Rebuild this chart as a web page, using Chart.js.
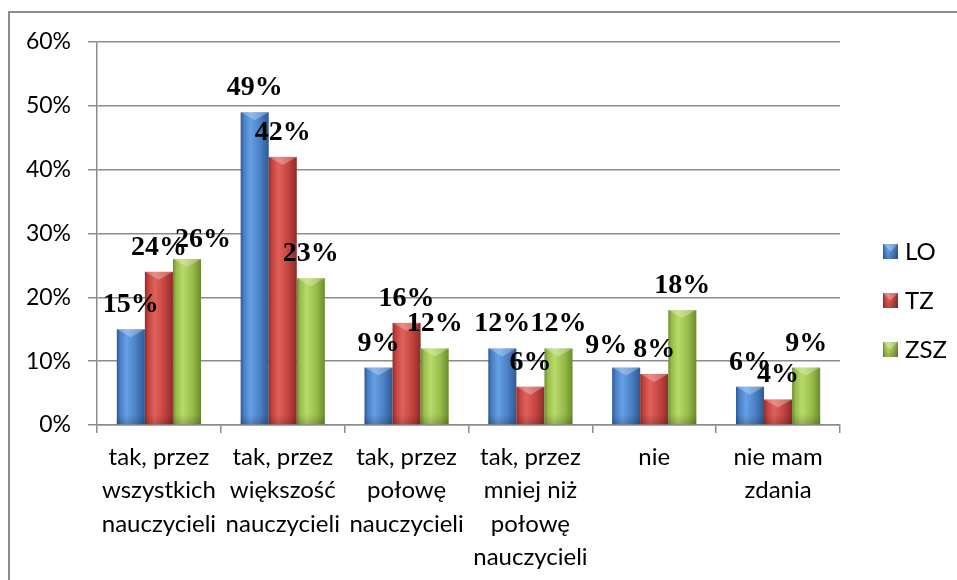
<!DOCTYPE html>
<html lang="pl">
<head>
  <meta charset="UTF-8" />
  <title>Wykres</title>
  <script src="https://cdn.jsdelivr.net/npm/chart.js"></script>
  <style>
    html, body { margin: 0; padding: 0; background: #fff; }
    .frame {
      position: absolute;
      left: 8px; top: 11px;
      width: 1000px; height: 600px;
      border: 2px solid #8c8c8c;
      border-right: none; border-bottom: none;
      box-sizing: border-box;
    }
    canvas { position: absolute; left: 0; top: 0; }
  </style>
</head>
<body>
  <div class="frame"></div>
  <canvas id="chart" width="957" height="580"></canvas>

  <script>
    // values (percent)
    const categories = [
      ['tak, przez', 'wszystkich', 'nauczycieli'],
      ['tak, przez', 'większość', 'nauczycieli'],
      ['tak, przez', 'połowę', 'nauczycieli'],
      ['tak, przez', 'mniej niż', 'połowę', 'nauczycieli'],
      ['nie'],
      ['nie mam', 'zdania']
    ];
    const seriesNames = ['LO', 'TZ', 'ZSZ'];
    const loValues = [15, 49, 9, 12, 9, 6];
    const tzValues = [24, 42, 16, 6, 8, 4];
    const zszValues = [26, 23, 12, 12, 18, 9];
    const yTicks = [0, 10, 20, 30, 40, 50, 60];

    // base / dark edge / light highlight for each series
    const palette = [
      { base: '#4a7fc4', dark: '#2d5a94', light: '#66a0e6' },
      { base: '#c4433f', dark: '#8f2b29', light: '#e0625c' },
      { base: '#98bd4a', dark: '#6b8c2c', light: '#b8da6a' }
    ];

    // hand-moved labels in the original: 'dataset-index' -> [dx, dy]
    const labelNudge = { '2-0': [16, 5], '0-4': [-20, 2] };

    const fillBar = (ctx, x0, y0, w, h, col) => {
      const g = ctx.createLinearGradient(x0, 0, x0 + w, 0);
      g.addColorStop(0, col.dark);
      g.addColorStop(0.12, col.base);
      g.addColorStop(0.35, col.light);
      g.addColorStop(0.7, col.base);
      g.addColorStop(1, col.dark);
      ctx.fillStyle = g;
      ctx.fillRect(x0, y0, w, h);
      // bevel on top
      const bev = Math.min(8, h / 2);
      ctx.fillStyle = 'rgba(255,255,255,0.28)';
      ctx.beginPath();
      ctx.moveTo(x0, y0);
      ctx.lineTo(x0 + w, y0);
      ctx.lineTo(x0 + w / 2, y0 + bev);
      ctx.closePath();
      ctx.fill();
      // darker foot
      const vg = ctx.createLinearGradient(0, y0 + h - 10, 0, y0 + h);
      vg.addColorStop(0, 'rgba(0,0,0,0)');
      vg.addColorStop(1, 'rgba(0,0,0,0.18)');
      ctx.fillStyle = vg;
      ctx.fillRect(x0, Math.max(y0, y0 + h - 10), w, Math.min(10, h));
    };

    const barLook = {
      id: 'barLook',
      afterDatasetsDraw(chart) {
        const ctx = chart.ctx;
        ctx.save();
        chart.data.datasets.forEach((ds, di) => {
          chart.getDatasetMeta(di).data.forEach(el => {
            const w = el.width;
            fillBar(ctx, el.x - w / 2, el.y, w, el.base - el.y, palette[di]);
          });
        });
        // value labels
        ctx.fillStyle = '#000';
        ctx.font = 'bold 28px "Liberation Serif", "Times New Roman", serif';
        ctx.textAlign = 'center';
        ctx.textBaseline = 'alphabetic';
        chart.data.datasets.forEach((ds, di) => {
          chart.getDatasetMeta(di).data.forEach((el, i) => {
            const n = labelNudge[di + '-' + i] || [0, 0];
            ctx.fillText(ds.data[i] + '%', el.x + n[0], el.y - 17 + n[1]);
          });
        });
        ctx.restore();
      }
    };

    const sideLegend = {
      id: 'sideLegend',
      afterDraw(chart) {
        const ctx = chart.ctx;
        const x = chart.chartArea.right + 43;
        const y0 = chart.height / 2 - 39;
        ctx.save();
        ctx.font = '24px Lato, "Open Sans", sans-serif';
        ctx.textBaseline = 'middle';
        ctx.textAlign = 'left';
        chart.data.datasets.forEach((ds, di) => {
          const y = y0 + di * 49;
          fillBar(ctx, x, y - 7, 15, 15, palette[di]);
          ctx.fillStyle = '#000';
          ctx.fillText(ds.label, x + 22, y + 1);
        });
        ctx.restore();
      }
    };

    const transparent = 'rgba(0,0,0,0)';

    new Chart(document.getElementById('chart'), {
      type: 'bar',
      data: {
        labels: categories,
        datasets: [
          { label: seriesNames[0], data: loValues, backgroundColor: transparent },
          { label: seriesNames[1], data: tzValues, backgroundColor: transparent },
          { label: seriesNames[2], data: zszValues, backgroundColor: transparent }
        ]
      },
      options: {
        responsive: false,
        animation: false,
        categoryPercentage: 0.68,
        barPercentage: 1,
        layout: { padding: { left: 25, top: 42, right: 117, bottom: 0 } },
        plugins: {
          legend: { display: false },
          tooltip: { enabled: false }
        },
        scales: {
          x: {
            afterFit: s => { s.height = 155; },
            grid: {
              offset: true,
              drawOnChartArea: false,
              drawTicks: true,
              tickLength: 8,
              color: '#8c8c8c',
              lineWidth: 1.5
            },
            border: { color: '#8c8c8c', width: 1.5 },
            ticks: {
              color: '#000',
              padding: 8,
              maxRotation: 0,
              autoSkip: false,
              font: { family: 'Lato, "Open Sans", sans-serif', size: 24, lineHeight: 1.38 }
            }
          },
          y: {
            min: yTicks[0],
            max: yTicks[yTicks.length - 1],
            afterFit: s => { s.width = 72; },
            afterBuildTicks: s => { s.ticks = yTicks.map(v => ({ value: v })); },
            grid: { color: '#8c8c8c', lineWidth: 1.5, tickLength: 9 },
            border: { color: '#8c8c8c', width: 1.5 },
            ticks: {
              color: '#000',
              padding: 17,
              callback: v => v + '%',
              font: { family: 'Lato, "Open Sans", sans-serif', size: 23 }
            }
          }
        }
      },
      plugins: [barLook, sideLegend]
    });
  </script>
</body>
</html>
